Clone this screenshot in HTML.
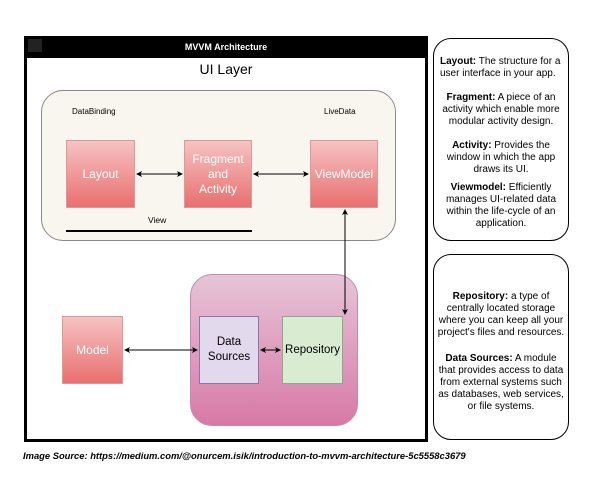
<!DOCTYPE html>
<html><head><style>
body{margin:0;width:600px;height:479px;background:#fff;position:relative;font-family:"Liberation Sans",sans-serif;overflow:hidden}
.a{position:absolute;box-sizing:border-box}
.red{background:linear-gradient(#f6c3c3,#e96f6f);border:1px solid #d99;color:#fff;font-size:12px;display:flex;align-items:center;justify-content:center;text-align:center;line-height:15px}
.note{border:1.2px solid #000;border-radius:18px;font-size:10px;line-height:12px;text-align:center;padding:0 2px}
</style></head><body>
<div class="a" style="left:24px;top:36px;width:404px;height:406px;border:3px solid #000"></div>
<div class="a" style="left:24px;top:36px;width:404px;height:22px;background:#000;color:#fff;font-size:9px;font-weight:bold;text-align:center;line-height:22px">MVVM Architecture</div>
<div class="a" style="left:28px;top:39px;width:14px;height:13px;background:#222"></div>
<div class="a" style="left:24px;top:61px;width:404px;text-align:center;font-size:14px">UI Layer</div>
<div class="a" style="left:41px;top:90px;width:355px;height:151px;background:#f8f6ee;border:1px solid #888;border-radius:22px"></div>
<div class="a" style="left:72px;top:107px;font-size:8px">DataBinding</div>
<div class="a" style="left:324px;top:107px;font-size:8px">LiveData</div>
<div class="a red" style="left:66px;top:140px;width:69px;height:68px">Layout</div>
<div class="a red" style="left:184px;top:140px;width:68px;height:68px">Fragment<br>and<br>Activity</div>
<div class="a red" style="left:310px;top:140px;width:68px;height:68px">ViewModel</div>
<div class="a" style="left:148px;top:215px;font-size:8.5px">View</div>
<div class="a" style="left:66px;top:230px;width:186px;height:2px;background:#000"></div>
<div class="a" style="left:190px;top:274px;width:168px;height:152px;background:linear-gradient(#e6c4d8,#d879a6);border:1px solid #c58aae;border-radius:22px"></div>
<div class="a red" style="left:62px;top:316px;width:61px;height:68px">Model</div>
<div class="a" style="left:199px;top:316px;width:60px;height:68px;background:#e3d9ec;border:1px solid #8877aa;display:flex;align-items:center;justify-content:center;text-align:center;font-size:11.5px;line-height:15px">Data<br>Sources</div>
<div class="a" style="left:282px;top:316px;width:61px;height:68px;background:#d9ecd2;border:1px solid #8a8;display:flex;align-items:center;justify-content:center;font-size:11.5px">Repository</div>
<svg class="a" style="left:0;top:0" width="600" height="479">
<defs><marker id="m" markerWidth="6" markerHeight="6" refX="5" refY="3" orient="auto-start-reverse"><path d="M0,0L6,3L0,6L1.5,3z" fill="#000"/></marker></defs>
<g stroke="#000" stroke-width="1" marker-start="url(#m)" marker-end="url(#m)">
<line x1="137" y1="174" x2="182" y2="174"/>
<line x1="254" y1="174" x2="308" y2="174"/>
<line x1="345" y1="210" x2="345" y2="314"/>
<line x1="125" y1="350" x2="197" y2="350"/>
<line x1="261" y1="350" x2="280" y2="350"/>
</g></svg>
<div class="a note" style="left:433px;top:38px;width:136px;height:203px;padding-top:17px">
<div style="text-align:left;padding-left:4px"><b>Layout:</b> The structure for a user interface in your app.</div>
<div style="margin-top:12px"><b>Fragment:</b> A piece of an activity which enable more modular activity design.</div>
<div style="margin-top:12px"><b>Activity:</b> Provides the window in which the app draws its UI.</div>
<div style="margin-top:6px"><b>Viewmodel:</b> Efficiently manages UI-related data within the life-cycle of an application.</div>
</div>
<div class="a note" style="left:433px;top:254px;width:136px;height:186px;padding-top:36px">
<div><b>Repository:</b> a type of centrally located storage where you can keep all your project's files and resources.</div>
<div style="margin-top:14px"><b>Data Sources:</b> A module that provides access to data from external systems such as databases, web services, or file systems.</div>
</div>
<div class="a" style="left:23px;top:450px;font-size:9.4px;font-style:italic;font-weight:bold;white-space:nowrap">Image Source: https://medium.com/@onurcem.isik/introduction-to-mvvm-architecture-5c5558c3679</div>
</body></html>
